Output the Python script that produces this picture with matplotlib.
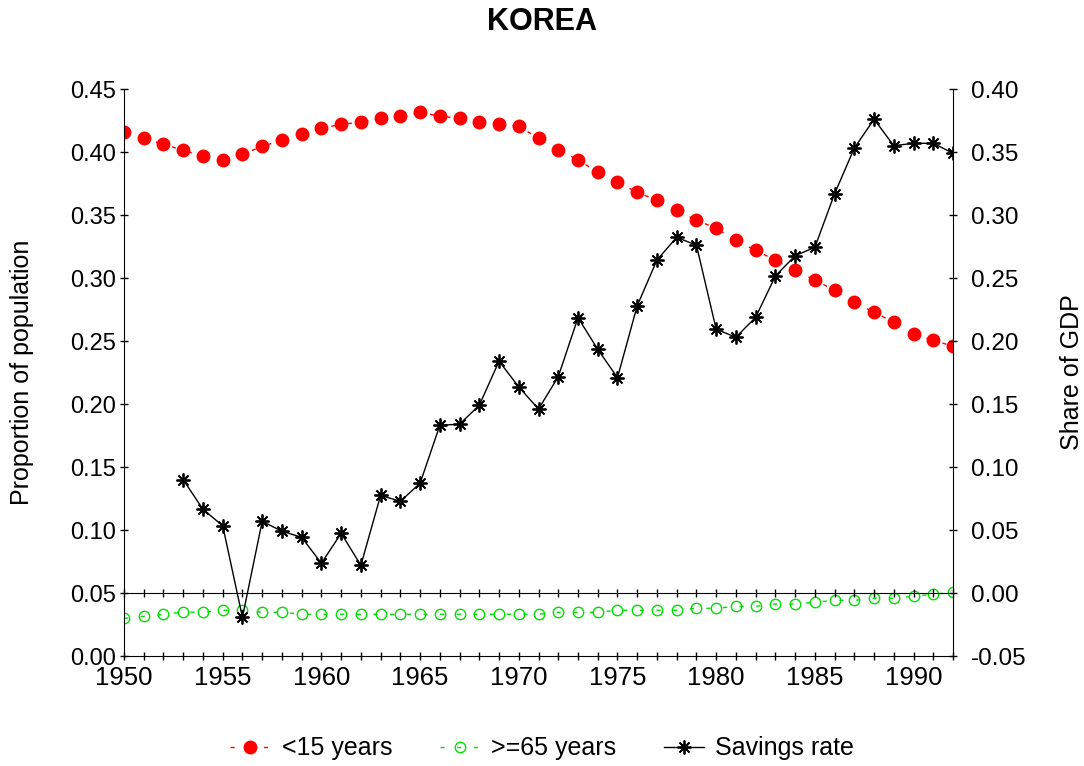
import numpy as np
import matplotlib
matplotlib.use('Agg')
import matplotlib.pyplot as plt
from matplotlib.ticker import MultipleLocator, FormatStrFormatter

plt.rcParams['font.family'] = ['Liberation Sans', 'DejaVu Sans']

years = list(range(1950, 1993))

# share of population under 15 (left axis)
young = [0.4157, 0.4109, 0.4061, 0.4014, 0.3966, 0.3934, 0.3982, 0.4045, 0.4093, 0.4141,
         0.4188, 0.4220, 0.4236, 0.4268, 0.4284, 0.4315, 0.4284, 0.4268, 0.4236, 0.4220,
         0.4204, 0.4109, 0.4016, 0.3937, 0.3839, 0.3760, 0.3680, 0.3617, 0.3538, 0.3458,
         0.3395, 0.3299, 0.3220, 0.3141, 0.3061, 0.2982, 0.2903, 0.2807, 0.2728, 0.2649,
         0.2553, 0.2506, 0.2458]

# share of population 65 and over (left axis)
old = [0.0299, 0.0315, 0.0331, 0.0349, 0.0347, 0.0363, 0.0363, 0.0347, 0.0347, 0.0331,
       0.0331, 0.0331, 0.0331, 0.0331, 0.0331, 0.0331, 0.0331, 0.0331, 0.0331, 0.0331,
       0.0331, 0.0331, 0.0347, 0.0347, 0.0347, 0.0363, 0.0363, 0.0363, 0.0363, 0.0379,
       0.0379, 0.0394, 0.0394, 0.0413, 0.0413, 0.0426, 0.0442, 0.0442, 0.0458, 0.0458,
       0.0474, 0.0490, 0.0505]

# savings rate, share of GDP (right axis), starts 1953
sav_years = list(range(1953, 1993))
savings = [0.0899, 0.0664, 0.0534, -0.0193, 0.0569, 0.0490, 0.0442, 0.0236, 0.0474, 0.0220,
           0.0775, 0.0728, 0.0871, 0.1331, 0.1340, 0.1490, 0.1840, 0.1635, 0.1460, 0.1717,
           0.2185, 0.1934, 0.1709, 0.2280, 0.2643, 0.2823, 0.2760, 0.2093, 0.2030, 0.2188,
           0.2516, 0.2677, 0.2744, 0.3169, 0.3532, 0.3760, 0.3550, 0.3569, 0.3569, 0.3490]


def main() -> int:
    fig = plt.figure(figsize=(10.84, 7.66), dpi=100)
    ax = fig.add_axes([0.1144, 0.1436, 0.7648, 0.7402])
    ax2 = ax.twinx()

    l1, = ax.plot(years, young, color='red', linestyle=(0, (3, 9)), linewidth=1,
                  marker='o', markersize=9, markerfacecolor='red', markeredgecolor='red',
                  label='<15 years')
    l2, = ax.plot(years, old, color='#00e000', linestyle=(0, (3, 9)), linewidth=1,
                  marker='o', markersize=7.5, markerfacecolor='none', markeredgecolor='#00e000',
                  label='>=65 years')
    l3, = ax2.plot(sav_years, savings, color='black', linewidth=1,
                   marker=(8, 2, 0), markersize=10, markeredgewidth=1.3,
                   label='Savings rate')

    ax.set_xlim(1950, 1992)
    ax.set_ylim(0, 0.45)
    ax2.set_ylim(-0.05, 0.40)

    ax.xaxis.set_major_locator(MultipleLocator(5))
    ax.xaxis.set_minor_locator(MultipleLocator(1))
    ax.yaxis.set_major_locator(MultipleLocator(0.05))
    ax.yaxis.set_major_formatter(FormatStrFormatter('%.2f'))
    ax2.yaxis.set_major_locator(MultipleLocator(0.05))
    ax2.yaxis.set_major_formatter(FormatStrFormatter('%.2f'))

    for a in (ax, ax2):
        a.spines['top'].set_visible(False)
    ax.spines['right'].set_visible(False)
    ax2.spines['left'].set_visible(False)

    # zero line of the savings axis with yearly ticks
    ax2.xaxis.set_visible(True)
    ax2.spines['bottom'].set_visible(True)
    ax2.spines['bottom'].set_position(('data', 0))
    ax2.tick_params(axis='x', which='both', direction='inout', length=6, width=1,
                    labelbottom=False, top=False)

    ax.tick_params(axis='x', which='both', direction='inout', length=6, width=1,
                   labelsize=18.5, pad=4)
    ax.tick_params(axis='y', direction='inout', length=6, width=1, labelsize=17, pad=3)
    ax2.tick_params(axis='y', direction='inout', length=6, width=1, labelsize=17.5, pad=10)

    ax.set_ylabel('Proportion of population', fontsize=18, labelpad=26)
    ax2.set_ylabel('Share of GDP', fontsize=18, labelpad=24)
    fig.text(0.5, 0.971, 'KOREA', fontsize=22, fontweight='bold', ha='center', va='center')

    fig.legend(handles=[l1, l2, l3], loc='lower center', bbox_to_anchor=(0.5, -0.022),
               ncol=3, frameon=False, fontsize=18, columnspacing=1.9,
               handlelength=1.6, handletextpad=0.45)

    fig.savefig('out.png', dpi=100)
    return 0


if __name__ == '__main__':
    main()
